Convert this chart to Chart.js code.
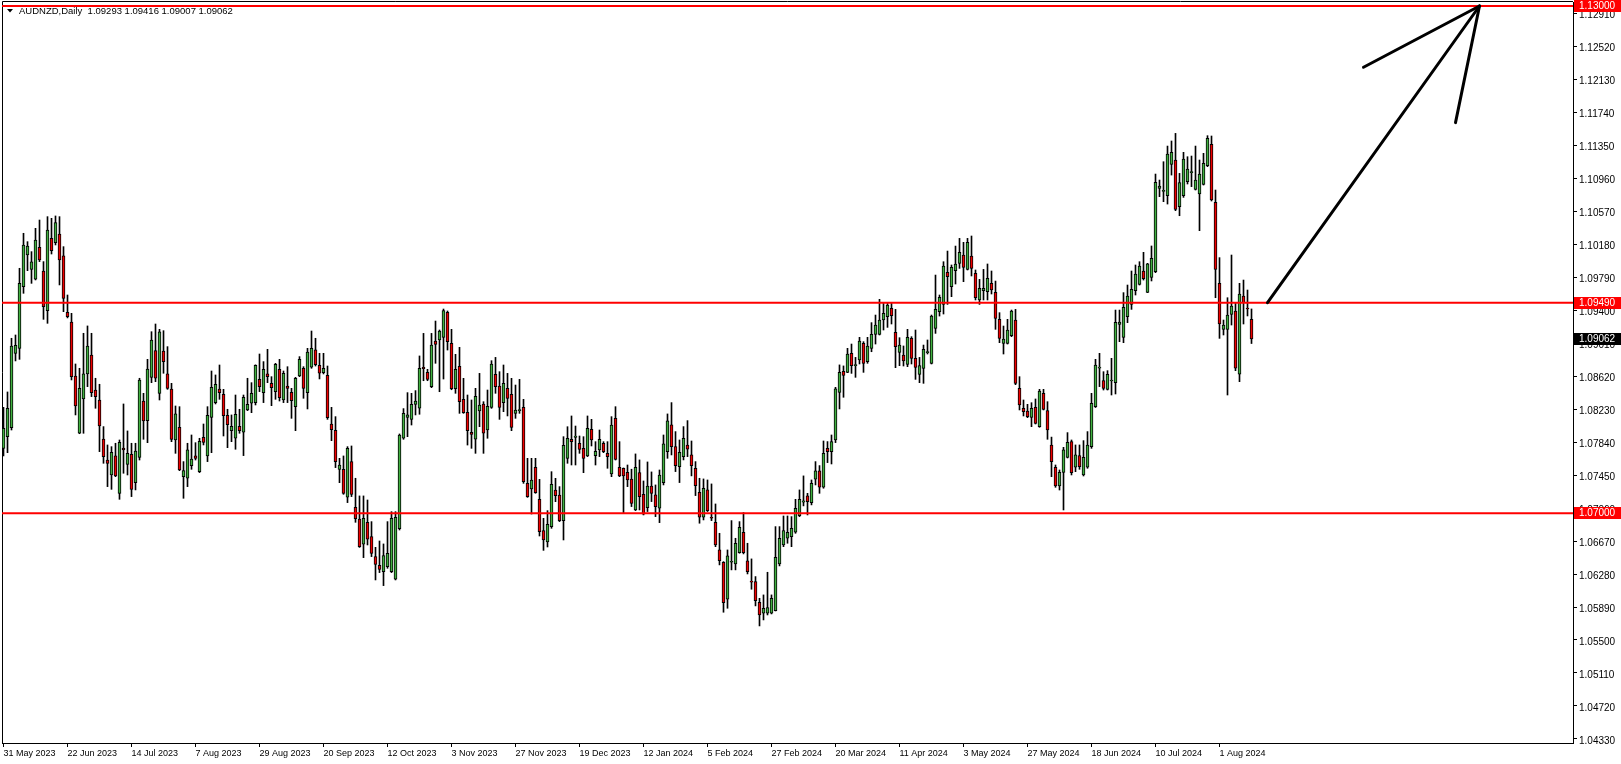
<!DOCTYPE html>
<html>
<head>
<meta charset="utf-8">
<title>AUDNZD,Daily</title>
<script src="https://cdn.jsdelivr.net/npm/chart.js@4.4.1/dist/chart.umd.min.js"></script>
<style>
  html, body { margin: 0; padding: 0; background: #fff; }
  #wrap { width: 1621px; height: 764px; }
</style>
</head>
<body>
<div id="wrap"><canvas id="chart" width="1621" height="764"></canvas></div>
<script>
// Symbol / timeframe shown in the top-left corner
const SYMBOL = 'AUDNZD';
const PERIOD = 'Daily';

// Daily candles, 31 May 2023 .. 13 Aug 2024 (one entry per bar)
const opens = [
  1.07767,1.07905,1.08012,1.08891,1.08950,1.09680,1.10054,1.09885,1.09767,1.10145,
  1.09865,1.09396,1.10252,1.10200,1.10303,1.10043,1.09376,1.09262,1.08623,1.07945,
  1.08351,1.08647,1.08871,1.08457,1.08339,1.07878,1.07629,1.07452,1.07677,1.07235,
  1.07771,1.07578,1.07697,1.07361,1.07661,1.08327,1.08095,1.08607,1.08923,1.08418,
  1.08919,1.08647,1.08469,1.07866,1.08016,1.07432,1.07413,1.07562,1.07677,1.07491,
  1.07898,1.07677,1.08134,1.08308,1.08469,1.08406,1.08158,1.07976,1.07886,1.08028,
  1.07957,1.08221,1.08300,1.08308,1.08584,1.08426,1.08647,1.08536,1.08438,1.08702,
  1.08339,1.08505,1.08430,1.08260,1.08623,1.08714,1.08426,1.08726,1.08931,1.08749,
  1.08662,1.08631,1.08055,1.07980,1.07519,1.07519,1.07188,1.07610,1.07069,1.06931,
  1.06632,1.06892,1.06722,1.06486,1.06383,1.06308,1.06368,1.06308,1.06218,1.06817,
  1.07886,1.08134,1.08110,1.08288,1.08241,1.08725,1.08666,1.08497,1.09037,1.09049,
  1.09080,1.09376,1.09009,1.08473,1.08737,1.08347,1.08193,1.07956,1.07874,1.08209,
  1.08292,1.07984,1.08252,1.08642,1.08504,1.08307,1.08477,1.08406,1.08181,1.08213,
  1.08252,1.07353,1.07286,1.07542,1.07164,1.06793,1.06660,1.06841,1.07274,1.07215,
  1.06911,1.07649,1.07874,1.07897,1.07826,1.07767,1.07676,1.07992,1.07680,1.07747,
  1.07826,1.07708,1.07463,1.08122,1.07542,1.07530,1.07483,1.07404,1.07038,1.07480,
  1.07224,1.07066,1.07322,1.07216,1.07058,1.07362,1.07728,1.08044,1.07787,1.07551,
  1.07669,1.07807,1.07689,1.07531,1.07247,1.06952,1.07275,1.06952,1.06892,1.06565,
  1.06419,1.05982,1.06419,1.06400,1.06534,1.06774,1.06435,1.06198,1.06191,1.05946,
  1.05816,1.05816,1.05816,1.05847,1.06400,1.06624,1.06703,1.06723,1.06774,1.06971,
  1.07129,1.07204,1.07125,1.07401,1.07500,1.07307,1.07768,1.07728,1.07866,1.08430,
  1.08679,1.08666,1.08891,1.08745,1.08812,1.09009,1.08792,1.08950,1.09116,1.09116,
  1.09285,1.09325,1.09423,1.09139,1.08903,1.08871,1.08761,1.09068,1.08832,1.08642,
  1.08713,1.08899,1.08773,1.09187,1.09384,1.09470,1.09849,1.09679,1.09869,1.09955,
  1.10054,1.09884,1.10042,1.09837,1.09522,1.09632,1.09620,1.09719,1.09612,1.09293,
  1.09009,1.09009,1.09100,1.09285,1.08477,1.08240,1.08209,1.08134,1.08252,1.08023,
  1.08418,1.08213,1.07807,1.07543,1.07322,1.07483,1.07661,1.07846,1.07543,1.07681,
  1.07452,1.07543,1.07787,1.08260,1.08714,1.08568,1.08465,1.08564,1.08544,1.09234,
  1.09080,1.09325,1.09471,1.09632,1.09707,1.09865,1.09613,1.09790,1.09857,1.10843,
  1.10807,1.10756,1.11127,1.11178,1.10626,1.10756,1.10922,1.11028,1.10831,1.10776,
  1.10890,1.11111,1.11363,1.10677,1.09719,1.09175,1.09175,1.09352,1.09392,1.08643,
  1.09569,1.09423,1.09293
];
const highs = [
  1.08252,1.08434,1.09069,1.09108,1.09897,1.10311,1.10212,1.10094,1.10370,1.10468,
  1.09976,1.10508,1.10488,1.10516,1.10508,1.10153,1.09581,1.09364,1.08765,1.08714,
  1.09128,1.09215,1.09128,1.08596,1.08525,1.08024,1.07807,1.07787,1.07827,1.07866,
  1.08292,1.07973,1.07827,1.07827,1.08596,1.08418,1.08820,1.09147,1.09238,1.09175,
  1.09159,1.08970,1.08536,1.08268,1.08260,1.07610,1.07827,1.07925,1.07834,1.07886,
  1.08055,1.08260,1.08682,1.08635,1.08753,1.08465,1.08229,1.08162,1.08398,1.08229,
  1.08398,1.08596,1.08544,1.08755,1.08883,1.08793,1.08938,1.08615,1.08773,1.08820,
  1.08682,1.08733,1.08477,1.08607,1.08852,1.08733,1.08950,1.09155,1.09069,1.08891,
  1.08891,1.08741,1.08252,1.08142,1.07649,1.07677,1.07787,1.07795,1.07413,1.07204,
  1.07204,1.07156,1.06900,1.06596,1.06671,1.06636,1.06900,1.07018,1.07018,1.07937,
  1.08237,1.08426,1.08418,1.08450,1.08860,1.09127,1.08702,1.09127,1.09273,1.09167,
  1.09415,1.09392,1.09175,1.08879,1.08962,1.08595,1.08398,1.08339,1.08477,1.08654,
  1.08319,1.08457,1.08804,1.08843,1.08674,1.08753,1.08654,1.08595,1.08516,1.08583,
  1.08347,1.07649,1.07649,1.07649,1.07400,1.06939,1.07030,1.07491,1.07412,1.07314,
  1.07905,1.08023,1.08150,1.08031,1.07913,1.07905,1.08150,1.08110,1.07846,1.07984,
  1.07846,1.07846,1.08142,1.08260,1.07846,1.07535,1.07570,1.07520,1.07701,1.07630,
  1.07381,1.07606,1.07488,1.07334,1.07511,1.07925,1.08174,1.08308,1.07965,1.07866,
  1.08024,1.08095,1.07854,1.07610,1.07413,1.07405,1.07393,1.07346,1.07109,1.06762,
  1.06427,1.06565,1.06912,1.06703,1.06900,1.07007,1.06644,1.06459,1.06250,1.05993,
  1.06033,1.06301,1.06033,1.06841,1.06841,1.06967,1.06967,1.06959,1.07164,1.07275,
  1.07441,1.07235,1.07393,1.07610,1.07563,1.07854,1.07847,1.07925,1.08489,1.08754,
  1.08742,1.08950,1.09001,1.08843,1.09080,1.09029,1.09080,1.09254,1.09344,1.09530,
  1.09482,1.09482,1.09482,1.09411,1.09076,1.08978,1.09175,1.09088,1.09167,1.08843,
  1.08989,1.09049,1.09344,1.09817,1.09581,1.09975,1.10101,1.09936,1.10160,1.10251,
  1.10204,1.10251,1.10279,1.09877,1.09766,1.09884,1.09948,1.09865,1.09746,1.09372,
  1.09214,1.09293,1.09403,1.09411,1.08615,1.08339,1.08288,1.08307,1.08351,1.08465,
  1.08465,1.08319,1.07900,1.07570,1.07511,1.07779,1.07953,1.07866,1.07807,1.07807,
  1.07858,1.07965,1.08418,1.08820,1.08891,1.08674,1.08686,1.08832,1.09403,1.09403,
  1.09609,1.09699,1.09865,1.09936,1.09975,1.10086,1.09956,1.10161,1.11012,1.10941,
  1.11158,1.11343,1.11403,1.11493,1.11020,1.11269,1.11217,1.11225,1.11343,1.11178,
  1.11257,1.11466,1.11462,1.10823,1.10023,1.09285,1.09549,1.10054,1.09490,1.09719,
  1.09758,1.09640,1.09416
];
const lows = [
  1.07677,1.07716,1.07984,1.08801,1.08820,1.09601,1.09869,1.09719,1.09759,1.09976,
  1.09293,1.09246,1.10066,1.10173,1.09700,1.09384,1.09310,1.08576,1.08162,1.07940,
  1.07945,1.08497,1.08379,1.08241,1.07728,1.07590,1.07314,1.07282,1.07432,1.07164,
  1.07472,1.07452,1.07196,1.07275,1.07629,1.07874,1.07834,1.08544,1.08556,1.08339,
  1.08655,1.08465,1.07846,1.07708,1.07503,1.07176,1.07314,1.07519,1.07629,1.07480,
  1.07807,1.07610,1.07716,1.08292,1.08347,1.07913,1.07775,1.07846,1.07756,1.07945,
  1.07681,1.08213,1.08189,1.08280,1.08438,1.08308,1.08544,1.08272,1.08347,1.08327,
  1.08308,1.08308,1.08122,1.07976,1.08615,1.08359,1.08233,1.08714,1.08741,1.08588,
  1.08647,1.08110,1.07858,1.07539,1.07361,1.07223,1.07125,1.07196,1.06892,1.06595,
  1.06474,1.06624,1.06486,1.06210,1.06297,1.06143,1.06348,1.06297,1.06210,1.06801,
  1.07874,1.07905,1.08043,1.08162,1.08170,1.08567,1.08567,1.08485,1.08773,1.08437,
  1.08587,1.08930,1.08460,1.08418,1.08181,1.08181,1.07806,1.07767,1.07708,1.08023,
  1.07708,1.07886,1.08240,1.08418,1.08110,1.08201,1.08150,1.07976,1.08122,1.08181,
  1.07353,1.07187,1.06990,1.07235,1.06730,1.06560,1.06600,1.06821,1.07136,1.06900,
  1.06683,1.07590,1.07570,1.07570,1.07708,1.07479,1.07669,1.07795,1.07570,1.07669,
  1.07716,1.07531,1.07432,1.07629,1.07432,1.07006,1.07314,1.07078,1.07030,1.07038,
  1.06979,1.07019,1.07137,1.06959,1.06888,1.07334,1.07649,1.07689,1.07492,1.07362,
  1.07630,1.07669,1.07441,1.07208,1.06881,1.06920,1.07019,1.06912,1.06604,1.06388,
  1.05828,1.05875,1.06329,1.06329,1.06526,1.06518,1.06281,1.06100,1.05903,1.05666,
  1.05737,1.05796,1.05808,1.05843,1.06376,1.06604,1.06644,1.06604,1.06762,1.06959,
  1.07086,1.06979,1.07098,1.07334,1.07235,1.07295,1.07598,1.07582,1.07835,1.08233,
  1.08371,1.08662,1.08654,1.08607,1.08765,1.08666,1.08773,1.08910,1.09001,1.09108,
  1.09167,1.09198,1.09238,1.08721,1.08745,1.08741,1.08733,1.08765,1.08583,1.08544,
  1.08536,1.08883,1.08765,1.09127,1.09332,1.09356,1.09470,1.09561,1.09711,1.09896,
  1.09739,1.09877,1.09806,1.09522,1.09470,1.09522,1.09522,1.09593,1.09175,1.09017,
  1.08883,1.09001,1.09088,1.08520,1.08221,1.08150,1.08130,1.08023,1.08055,1.08016,
  1.08221,1.07874,1.07432,1.07306,1.07274,1.07038,1.07653,1.07452,1.07491,1.07519,
  1.07440,1.07531,1.07767,1.08250,1.08497,1.08457,1.08457,1.08398,1.08410,1.09029,
  1.09017,1.09254,1.09411,1.09581,1.09699,1.09758,1.09609,1.09747,1.09845,1.10744,
  1.10685,1.10657,1.11000,1.10579,1.10519,1.10736,1.10894,1.10863,1.10823,1.10342,
  1.10882,1.11099,1.10693,1.09549,1.09068,1.09108,1.08398,1.09226,1.08686,1.08556,
  1.09238,1.09333,1.09007
];
const closes = [
  1.08004,1.08241,1.08978,1.08986,1.09719,1.10173,1.10161,1.09972,1.10232,1.09995,
  1.09443,1.10350,1.10106,1.10437,1.09995,1.09542,1.09325,1.08615,1.08268,1.08477,
  1.08647,1.08978,1.08426,1.08379,1.08032,1.07669,1.07590,1.07720,1.07440,1.07838,
  1.07748,1.07708,1.07282,1.07736,1.08576,1.08091,1.08706,1.09049,1.08596,1.09144,
  1.08793,1.08477,1.07874,1.08174,1.07511,1.07503,1.07748,1.07641,1.07649,1.07850,
  1.07838,1.08158,1.08489,1.08524,1.08426,1.08154,1.08047,1.08028,1.08170,1.07976,
  1.08371,1.08288,1.08418,1.08749,1.08497,1.08702,1.08615,1.08485,1.08761,1.08367,
  1.08655,1.08477,1.08331,1.08595,1.08820,1.08477,1.08907,1.08950,1.08757,1.08655,
  1.08714,1.08130,1.07988,1.07610,1.07570,1.07235,1.07767,1.07223,1.06935,1.06604,
  1.06939,1.06691,1.06525,1.06395,1.06336,1.06498,1.06525,1.06939,1.06951,1.07925,
  1.08181,1.08162,1.08288,1.08327,1.08714,1.08709,1.08583,1.08990,1.08997,1.09155,
  1.09396,1.09029,1.08473,1.08702,1.08319,1.08189,1.07976,1.07933,1.08382,1.08280,
  1.07945,1.08264,1.08765,1.08497,1.08252,1.08536,1.08359,1.08015,1.08221,1.08221,
  1.07373,1.07195,1.07392,1.07243,1.06781,1.06683,1.06868,1.07341,1.07207,1.06911,
  1.07803,1.07886,1.07846,1.07913,1.07755,1.07649,1.08004,1.07866,1.07732,1.07874,
  1.07728,1.07669,1.08043,1.07637,1.07440,1.07440,1.07392,1.07116,1.07543,1.07196,
  1.06987,1.07322,1.07235,1.07078,1.07452,1.07819,1.08091,1.07787,1.07563,1.07720,
  1.07886,1.07756,1.07563,1.07326,1.06952,1.07295,1.07030,1.06940,1.06624,1.06439,
  1.05942,1.06494,1.06431,1.06644,1.06833,1.06534,1.06309,1.06183,1.05966,1.05796,
  1.05875,1.05883,1.05993,1.06478,1.06703,1.06794,1.06774,1.06822,1.07058,1.07164,
  1.07145,1.07137,1.07354,1.07500,1.07307,1.07709,1.07728,1.07847,1.08470,1.08667,
  1.08631,1.08883,1.08745,1.08753,1.09037,1.08773,1.08978,1.09116,1.09226,1.09285,
  1.09364,1.09463,1.09336,1.08970,1.08989,1.08800,1.09080,1.08832,1.08725,1.08745,
  1.08938,1.08911,1.09332,1.09411,1.09553,1.09924,1.09798,1.09908,1.09948,1.10086,
  1.09908,1.10204,1.09896,1.09549,1.09660,1.09660,1.09778,1.09640,1.09305,1.09068,
  1.09060,1.09167,1.09392,1.08536,1.08280,1.08201,1.08142,1.08240,1.08063,1.08445,
  1.08228,1.07984,1.07610,1.07322,1.07483,1.07748,1.07838,1.07480,1.07689,1.07551,
  1.07661,1.07807,1.08300,1.08753,1.08729,1.08477,1.08643,1.08572,1.09258,1.09262,
  1.09435,1.09569,1.09648,1.09829,1.09924,1.09774,1.09950,1.10015,1.10914,1.10870,
  1.10815,1.11249,1.11269,1.10594,1.10910,1.11190,1.11071,1.11036,1.10941,1.11012,
  1.11138,1.11434,1.10705,1.09885,1.09238,1.09226,1.09344,1.09451,1.08714,1.09593,
  1.09490,1.09415,1.09062
];

// Time axis labels, one every 16 bars starting at bar 0
const dateLabels = [
  '31 May 2023', '22 Jun 2023', '14 Jul 2023', '7 Aug 2023', '29 Aug 2023',
  '20 Sep 2023', '12 Oct 2023', '3 Nov 2023', '27 Nov 2023', '19 Dec 2023',
  '12 Jan 2024', '5 Feb 2024', '27 Feb 2024', '20 Mar 2024', '11 Apr 2024',
  '3 May 2024', '27 May 2024', '18 Jun 2024', '10 Jul 2024', '1 Aug 2024'
];
const LABEL_STEP = 16;

// Price scale tick values
const priceTicks = [
  1.04330, 1.04720, 1.05110, 1.05500, 1.05890, 1.06280, 1.06670, 1.07060,
  1.07450, 1.07840, 1.08230, 1.08620, 1.09010, 1.09400, 1.09790, 1.10180,
  1.10570, 1.10960, 1.11350, 1.11740, 1.12130, 1.12520, 1.12910
];

// Horizontal levels drawn on the chart
const levels = [1.13000, 1.09490, 1.07000];

// Arrow drawn by hand: shaft from breakout point to target, plus two head strokes
const arrowShaft = [{ x: 316, y: 1.09490 }, { x: 369, y: 1.13000 }];
const arrowHeadA = [{ x: 340, y: 1.12275 }, { x: 369, y: 1.13000 }];
const arrowHeadB = [{ x: 363, y: 1.11620 }, { x: 369, y: 1.13000 }];

// Visible window
const X_MIN = -0.375;
const X_MAX = 392.375;
const Y_MIN = 1.042811;
const Y_MAX = 1.130473;

const BULL = '#40b040';
const BEAR = '#ee0000';
const LEVEL = '#ff0000';
const FONT = "'Liberation Sans', Arial, sans-serif";

Chart.defaults.font.family = FONT;
Chart.defaults.color = '#000';

const bars = opens.map((_, i) => i);
const last = opens.length - 1;

// Price tags on the right axis (levels in red, current close in black)
const tags = levels.map(v => ({ value: v, bg: LEVEL }))
  .concat([{ value: closes[last], bg: '#000' }]);

const mtPlugin = {
  id: 'mtDecor',
  beforeDatasetsDraw(chart) {
    const { ctx, chartArea } = chart;
    ctx.save();
    ctx.strokeStyle = '#000';
    ctx.lineWidth = 1;
    ctx.beginPath();
    ctx.moveTo(chartArea.left + 0.5, chartArea.bottom);
    ctx.lineTo(chartArea.left + 0.5, chartArea.top - 0.5);
    ctx.lineTo(chartArea.right, chartArea.top - 0.5);
    ctx.stroke();
    ctx.restore();
  },
  afterDraw(chart) {
    const { ctx, chartArea, scales } = chart;
    const y = scales.y;
    ctx.save();
    // price tags
    ctx.font = '10px ' + FONT;
    ctx.textBaseline = 'middle';
    ctx.textAlign = 'left';
    tags.forEach(t => {
      const py = Math.round(y.getPixelForValue(t.value));
      ctx.fillStyle = t.bg;
      ctx.fillRect(chartArea.right + 1, py - 6, chart.width - chartArea.right - 1, 12);
      ctx.fillStyle = '#fff';
      ctx.fillText(t.value.toFixed(5), chartArea.right + 6, py + 0.5);
    });
    // header: symbol, period and last bar OHLC
    ctx.fillStyle = '#000';
    ctx.beginPath();
    ctx.moveTo(7, 9);
    ctx.lineTo(13, 9);
    ctx.lineTo(10, 12.5);
    ctx.closePath();
    ctx.fill();
    ctx.font = '9.5px ' + FONT;
    const ohlc = [opens[last], highs[last], lows[last], closes[last]].map(v => v.toFixed(5)).join(' ');
    ctx.fillText(SYMBOL + ',' + PERIOD + '  ' + ohlc, 19, 11);
    ctx.restore();
  }
};

const lineDs = (data, color, width, order) => ({
  type: 'line',
  data: data,
  borderColor: color,
  borderWidth: width,
  pointRadius: 0,
  borderCapStyle: 'round',
  fill: false,
  tension: 0,
  order: order
});

const datasets = [
  lineDs(arrowShaft, '#000', 3, 0),
  lineDs(arrowHeadA, '#000', 3, 0),
  lineDs(arrowHeadB, '#000', 3, 0)
].concat(levels.map(v => lineDs([{ x: X_MIN, y: v }, { x: X_MAX, y: v }], LEVEL, 2, 1)))
 .concat([
  {
    type: 'bar',
    data: bars.map(i => ({ x: i, y: [opens[i], closes[i]] })),
    backgroundColor: bars.map(i => closes[i] >= opens[i] ? BULL : BEAR),
    borderColor: '#000',
    borderWidth: 1,
    borderSkipped: false,
    barThickness: 3,
    minBarLength: 1,
    grouped: false,
    order: 2
  },
  {
    type: 'bar',
    data: bars.map(i => ({ x: i, y: [lows[i], highs[i]] })),
    backgroundColor: '#000',
    borderWidth: 0,
    barThickness: 1,
    grouped: false,
    order: 3
  }
]);

new Chart(document.getElementById('chart'), {
  type: 'bar',
  data: { datasets: datasets },
  options: {
    responsive: false,
    animation: false,
    devicePixelRatio: 1,
    layout: { padding: { top: 2, left: 2, right: 0, bottom: 0 } },
    plugins: {
      legend: { display: false },
      tooltip: { enabled: false }
    },
    scales: {
      x: {
        type: 'linear',
        position: 'bottom',
        offset: false,
        min: X_MIN,
        max: X_MAX,
        afterBuildTicks: s => { s.ticks = dateLabels.map((_, k) => ({ value: k * LABEL_STEP })); },
        afterFit: s => {
          s.height = 21;
          s.paddingLeft = 0;
          s.paddingRight = 0;
        },
        ticks: {
          autoSkip: false,
          maxRotation: 0,
          align: 'start',
          padding: 1,
          color: '#000',
          font: { size: 9 },
          callback: (v, k) => dateLabels[k]
        },
        grid: { offset: false, drawOnChartArea: false, drawTicks: true, tickLength: 4, color: '#000' },
        border: { display: true, color: '#000' }
      },
      y: {
        type: 'linear',
        position: 'right',
        min: Y_MIN,
        max: Y_MAX,
        afterBuildTicks: s => { s.ticks = priceTicks.map(v => ({ value: v })); },
        afterFit: s => {
          s.width = 48;
          s.paddingTop = 0;
          s.paddingBottom = 0;
        },
        ticks: {
          autoSkip: false,
          padding: 2,
          labelOffset: 2,
          color: '#000',
          font: { size: 10 },
          callback: v => v.toFixed(5)
        },
        grid: { drawOnChartArea: false, drawTicks: true, tickLength: 4, color: '#000' },
        border: { display: true, color: '#000' }
      }
    }
  },
  plugins: [mtPlugin]
});
</script>
</body>
</html>
